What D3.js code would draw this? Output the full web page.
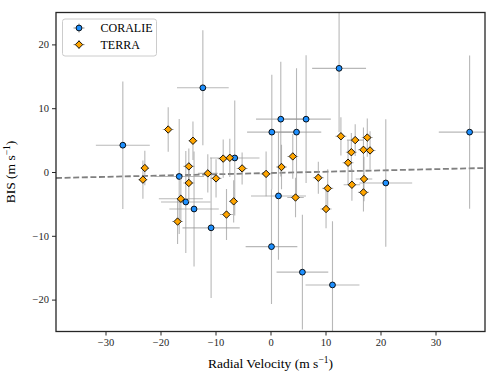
<!DOCTYPE html>
<html>
<head>
<meta charset="utf-8">
<script src="https://cdn.jsdelivr.net/npm/d3@7"></script>
<style>
  body { margin: 0; background: #fff; }
  text { font-family: "Liberation Serif", "DejaVu Serif", serif; fill: #000; }
</style>
</head>
<body>
<div id="chart"></div>
<script>
// Data
// ==============================
var coralieRV     = [-26.85, -12.3, -16.6, -15.4, -13.9, -10.8, -6.5, 0.24, 1.87, 4.73, 6.47, 12.47, 36.2, 20.96, 1.45, 0.18, 5.8, 11.27];
var coralieBIS    = [4.2, 13.2, -0.7, -4.7, -5.8, -8.75, 2.2, 6.25, 8.28, 6.25, 8.28, 16.25, 6.25, -1.72, -3.75, -11.7, -15.7, -17.7];
var coralieRVErr  = [4.9, 4.7, 4.5, 4.5, 4.5, 5.2, 4.5, 4.5, 4.5, 4.5, 4.5, 4.9, 5.6, 4.8, 5.0, 4.7, 4.7, 4.9];
var coralieBISErr = [10, 9, 9, 8, 9, 11, 9, 9, 9, 10, 10, 10, 12, 10, 10, 9, 9, 10];

var terraRV     = [-18.6, -14.1, -22.85, -23.2, -14.85, -14.85, -11.4, -9.9, -8.6, -7.4, -5.16, -16.3, -16.9, -8.0, -6.7,
                   -0.8, 2.0, 4.05, 4.55, 12.8, 15.4, 17.6, 14.7, 16.9, 18.1, 14.1, 8.7, 10.4, 14.8, 17.0, 16.9, 10.1];
var terraBIS    = [6.66, 4.9, 0.62, -1.2, 0.88, -1.72, -0.22, -1.0, 2.1, 2.23, 0.56, -4.2, -7.77, -6.67, -4.6,
                   -0.3, 0.78, 2.44, -4.0, 5.6, 5.0, 5.4, 3.1, 3.48, 3.38, 1.45, -0.9, -2.56, -2.0, -1.1, -3.2, -5.8];
var terraRVErr  = [1.0, 0.8, 0.8, 0.8, 1.0, 1.0, 1.8, 1.0, 1.0, 1.0, 1.0, 4.0, 1.0, 1.2, 0.8,
                   1.0, 1.0, 1.0, 1.5, 1.0, 1.5, 1.0, 1.0, 1.0, 1.0, 1.0, 1.0, 1.0, 1.5, 1.5, 1.0, 1.0];
var terraBISErr = [3.5, 3.0, 2.7, 3.0, 2.8, 3.0, 3.0, 3.0, 3.0, 3.0, 2.5, 3.5, 3.5, 4.0, 3.3,
                   3.5, 3.5, 3.5, 3.1, 3.0, 2.5, 3.0, 3.0, 3.5, 3.0, 3.5, 2.5, 3.0, 2.5, 3.5, 3.0, 3.0];

// linear fit (dashed line)
var fitSlope = 0.0201;
var fitIntercept = -0.155;

var xTicks = [-30, -20, -10, 0, 10, 20, 30];
var yTicks = [-20, -10, 0, 10, 20];
var seriesNames = ["CORALIE", "TERRA"];

// Chart area
// ==============================
var svgWidth = 498, svgHeight = 380;
var margin = { top: 12.5, right: 13, bottom: 48.5, left: 56 };
var width = svgWidth - margin.left - margin.right;
var height = svgHeight - margin.top - margin.bottom;

var svg = d3.select("#chart")
  .append("svg")
  .attr("width", svgWidth)
  .attr("height", svgHeight);

var chartGroup = svg.append("g")
  .attr("transform", `translate(${margin.left}, ${margin.top})`);

var xScale = d3.scaleLinear().domain([-39, 39]).range([0, width]);
var yScale = d3.scaleLinear().domain([-25, 25]).range([height, 0]);

var coralie = coralieRV.map((v, i) => ({ x: v, y: coralieBIS[i], xe: coralieRVErr[i], ye: coralieBISErr[i] }));
var terra = terraRV.map((v, i) => ({ x: v, y: terraBIS[i], xe: terraRVErr[i], ye: terraBISErr[i] }));

var plot = chartGroup.append("g");
plot.append("clipPath").attr("id", "clip")
  .append("rect").attr("width", width).attr("height", height);
var inner = plot.append("g").attr("clip-path", "url(#clip)");

// Fit line
var x0 = xScale.domain()[0], x1 = xScale.domain()[1];
inner.append("line")
  .attr("x1", xScale(x0)).attr("y1", yScale(fitSlope * x0 + fitIntercept))
  .attr("x2", xScale(x1)).attr("y2", yScale(fitSlope * x1 + fitIntercept))
  .attr("stroke", "#808080")
  .attr("stroke-width", 1.8)
  .attr("stroke-dasharray", "6,2.6");

function drawErrors(g, data) {
  var eg = g.append("g")
    .attr("stroke", "#9a9a9a")
    .attr("stroke-opacity", 0.7)
    .attr("stroke-width", 1.1);
  eg.selectAll(".xe").data(data).join("line")
    .attr("x1", d => xScale(d.x - d.xe)).attr("x2", d => xScale(d.x + d.xe))
    .attr("y1", d => yScale(d.y)).attr("y2", d => yScale(d.y));
  eg.selectAll(".ye").data(data).join("line")
    .attr("x1", d => xScale(d.x)).attr("x2", d => xScale(d.x))
    .attr("y1", d => yScale(d.y - d.ye)).attr("y2", d => yScale(d.y + d.ye));
}

var diamond = "M0,-3.7L3.7,0L0,3.7L-3.7,0Z";

drawErrors(inner, coralie);
inner.selectAll("circle.coralie").data(coralie).join("circle")
  .attr("class", "coralie")
  .attr("cx", d => xScale(d.x))
  .attr("cy", d => yScale(d.y))
  .attr("r", 2.9)
  .attr("fill", "#1e90ff")
  .attr("stroke", "#000")
  .attr("stroke-width", 0.9);

drawErrors(inner, terra);
inner.selectAll("path.terra").data(terra).join("path")
  .attr("class", "terra")
  .attr("d", diamond)
  .attr("transform", d => `translate(${xScale(d.x)},${yScale(d.y)})`)
  .attr("fill", "#ffa500")
  .attr("stroke", "#000")
  .attr("stroke-width", 0.9);

// Axes
// ==============================
var xAxis = d3.axisBottom(xScale).tickValues(xTicks).tickSize(4).tickPadding(3)
  .tickFormat(d => d < 0 ? "\u2212" + Math.abs(d) : d);
var yAxis = d3.axisLeft(yScale).tickValues(yTicks).tickSize(4).tickPadding(3)
  .tickFormat(d => d < 0 ? "\u2212" + Math.abs(d) : d);

var gx = chartGroup.append("g")
  .attr("transform", `translate(0, ${height})`)
  .call(xAxis);
var gy = chartGroup.append("g").call(yAxis);
[gx, gy].forEach(function(g) {
  g.attr("font-family", null);
  g.select(".domain").remove();
  g.selectAll("line").attr("stroke", "#262626").attr("stroke-width", 1);
  g.selectAll("text")
    .style("font-family", "'Liberation Serif', serif")
    .style("font-size", "10.5px")
    .style("fill", "#262626");
});

// frame
chartGroup.append("rect")
  .attr("width", width).attr("height", height)
  .attr("fill", "none")
  .attr("stroke", "#262626")
  .attr("stroke-width", 1.3);

// Axis labels
// ==============================
var xl = chartGroup.append("text")
  .attr("x", width / 2)
  .attr("y", height + 36.5)
  .attr("text-anchor", "middle")
  .attr("font-size", 13.5);
xl.append("tspan").text("Radial Velocity (m s");
xl.append("tspan").attr("dy", -5).attr("font-size", 9.5).text("\u22121");
xl.append("tspan").attr("dy", 5).text(")");

var yl = chartGroup.append("text")
  .attr("transform", `translate(${-41}, ${height / 2}) rotate(-90)`)
  .attr("text-anchor", "middle")
  .attr("font-size", 13.5);
yl.append("tspan").text("BIS (m s");
yl.append("tspan").attr("dy", -5).attr("font-size", 9.5).text("\u22121");
yl.append("tspan").attr("dy", 5).text(")");

// Legend
// ==============================
var legend = chartGroup.append("g").attr("transform", "translate(6.5, 6.5)");
legend.append("rect")
  .attr("width", 94).attr("height", 37)
  .attr("rx", 2.5)
  .attr("fill", "#fff")
  .attr("fill-opacity", 0.8)
  .attr("stroke", "#cccccc")
  .attr("stroke-width", 1);

seriesNames.forEach(function(name, i) {
  var row = legend.append("g").attr("transform", `translate(16.5, ${9 + i * 16.6})`);
  row.append("line").attr("x1", -5.5).attr("x2", 5.5).attr("y1", 0).attr("y2", 0)
    .attr("stroke", "#9a9a9a").attr("stroke-width", 1.1);
  row.append("line").attr("x1", 0).attr("x2", 0).attr("y1", -4.5).attr("y2", 4.5)
    .attr("stroke", "#9a9a9a").attr("stroke-width", 1.1);
  if (i === 0) {
    row.append("circle").attr("r", 2.9).attr("fill", "#1e90ff")
      .attr("stroke", "#000").attr("stroke-width", 0.9);
  } else {
    row.append("path").attr("d", diamond).attr("fill", "#ffa500")
      .attr("stroke", "#000").attr("stroke-width", 0.9);
  }
  row.append("text")
    .attr("x", 21.5)
    .attr("y", 4.3)
    .attr("font-size", 12)
    .text(name);
});
</script>
</body>
</html>
